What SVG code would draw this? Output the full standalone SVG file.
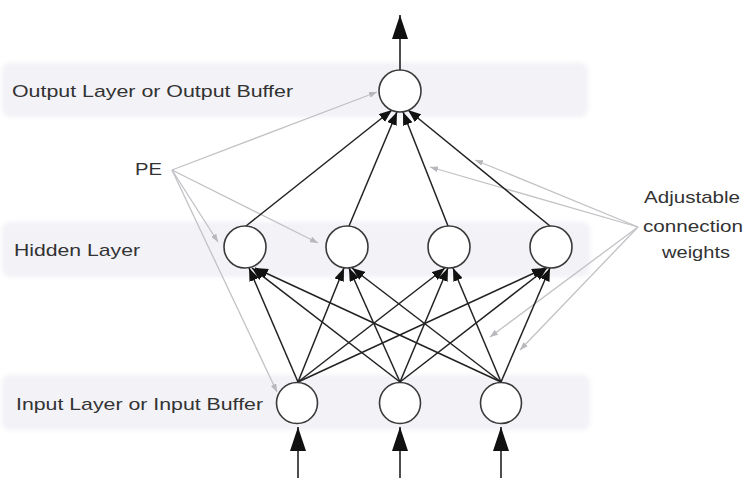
<svg xmlns="http://www.w3.org/2000/svg" width="745" height="478" viewBox="0 0 745 478">
  <style>
    .band { fill: #f2f2f7; filter: url(#soft); }
    .node { fill: #ffffff; stroke: #3a3a3a; stroke-width: 1.6; }
    .conn { stroke: #222222; stroke-width: 1.5; fill: none; marker-end: url(#arr); }
    .io { stroke: #222222; stroke-width: 1.6; fill: none; marker-end: url(#big); }
    .note { stroke: #c2c2c6; stroke-width: 1.3; fill: none; marker-end: url(#garr); }
    .lbl { font-family: "Liberation Sans", Arial, sans-serif; font-size: 17px; fill: #333333; }
  </style>
  <defs>
    <filter id="soft" x="-5%" y="-20%" width="110%" height="140%">
      <feGaussianBlur stdDeviation="2.5"/>
    </filter>
    <marker id="arr" markerUnits="userSpaceOnUse" markerWidth="13" markerHeight="10" refX="13" refY="5" orient="auto">
      <path d="M0,0 L13,5 L0,10 z" fill="#111111"/>
    </marker>
    <marker id="big" markerUnits="userSpaceOnUse" markerWidth="24" markerHeight="16" refX="24" refY="8" orient="auto">
      <path d="M0,0 L24,8 L0,16 z" fill="#111111"/>
    </marker>
    <marker id="garr" markerUnits="userSpaceOnUse" markerWidth="8" markerHeight="6" refX="8" refY="3" orient="auto">
      <path d="M0,0 L8,3 L0,6 z" fill="#b8b8bc"/>
    </marker>
  </defs>

  <rect width="745" height="478" fill="#ffffff"/>

  <g id="bands">
    <rect class="band" x="2" y="63" width="586" height="54" rx="8"/>
    <rect class="band" x="2" y="222" width="588" height="55" rx="8"/>
    <rect class="band" x="2" y="375" width="588" height="55" rx="8"/>
  </g>

  <g id="labels">
    <text class="lbl" x="12" y="97" textLength="281" lengthAdjust="spacingAndGlyphs">Output Layer or Output Buffer</text>
    <text class="lbl" x="135" y="175" textLength="27" lengthAdjust="spacingAndGlyphs">PE</text>
    <text class="lbl" x="14" y="256" textLength="126" lengthAdjust="spacingAndGlyphs">Hidden Layer</text>
    <text class="lbl" x="16" y="410" textLength="247" lengthAdjust="spacingAndGlyphs">Input Layer or Input Buffer</text>
    <text class="lbl" x="644" y="203" textLength="96" lengthAdjust="spacingAndGlyphs">Adjustable</text>
    <text class="lbl" x="643" y="232" textLength="100" lengthAdjust="spacingAndGlyphs">connection</text>
    <text class="lbl" x="662" y="258" textLength="68" lengthAdjust="spacingAndGlyphs">weights</text>
  </g>

  <g id="connectors">
    <!-- annotation pointers -->
    <line class="note" x1="172" y1="170" x2="377" y2="92"/>
    <line class="note" x1="172" y1="170" x2="218" y2="242"/>
    <line class="note" x1="172" y1="170" x2="318" y2="243"/>
    <line class="note" x1="172" y1="170" x2="277" y2="392"/>
    <line class="note" x1="638" y1="227" x2="475" y2="160"/>
    <line class="note" x1="638" y1="227" x2="430" y2="167"/>
    <line class="note" x1="638" y1="227" x2="490" y2="337"/>
    <line class="note" x1="638" y1="227" x2="520" y2="350"/>

    <!-- output arrow -->
    <line class="io" x1="400" y1="70" x2="400" y2="15"/>
    <!-- input arrows -->
    <line class="io" x1="298" y1="478" x2="298" y2="427"/>
    <line class="io" x1="400" y1="478" x2="400" y2="427"/>
    <line class="io" x1="501" y1="478" x2="501" y2="427"/>

    <!-- hidden to output -->
    <line class="conn" x1="246" y1="226" x2="392" y2="110"/>
    <line class="conn" x1="349" y1="226" x2="397" y2="112"/>
    <line class="conn" x1="448" y1="226" x2="403" y2="112"/>
    <line class="conn" x1="550" y1="226" x2="408" y2="110"/>

    <!-- input to hidden -->
    <line class="conn" x1="298" y1="382" x2="249" y2="268"/>
    <line class="conn" x1="400" y1="382" x2="252" y2="268"/>
    <line class="conn" x1="501" y1="382" x2="255" y2="268"/>

    <line class="conn" x1="298" y1="382" x2="344" y2="268"/>
    <line class="conn" x1="400" y1="382" x2="349" y2="268"/>
    <line class="conn" x1="501" y1="382" x2="352" y2="268"/>

    <line class="conn" x1="298" y1="382" x2="445" y2="268"/>
    <line class="conn" x1="400" y1="382" x2="448" y2="268"/>
    <line class="conn" x1="501" y1="382" x2="453" y2="268"/>

    <line class="conn" x1="298" y1="382" x2="545" y2="268"/>
    <line class="conn" x1="400" y1="382" x2="547" y2="268"/>
    <line class="conn" x1="501" y1="382" x2="550" y2="268"/>
  </g>

  <g id="out1"><circle class="node" cx="400" cy="91" r="21"/></g>
  <g id="hid1"><circle class="node" cx="245" cy="247" r="21"/></g>
  <g id="hid2"><circle class="node" cx="347" cy="247" r="21"/></g>
  <g id="hid3"><circle class="node" cx="449" cy="247" r="21"/></g>
  <g id="hid4"><circle class="node" cx="551" cy="247" r="21"/></g>
  <g id="in1"><circle class="node" cx="297" cy="403" r="20.5"/></g>
  <g id="in2"><circle class="node" cx="400" cy="403" r="20.5"/></g>
  <g id="in3"><circle class="node" cx="501" cy="403" r="20.5"/></g>
</svg>
